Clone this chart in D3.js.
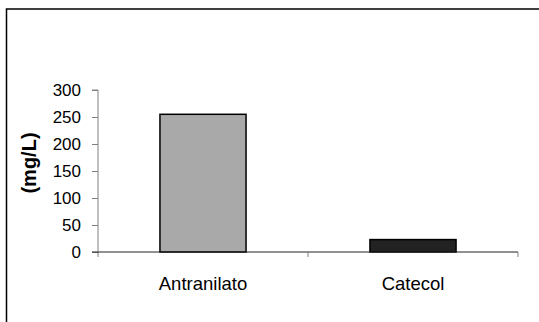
<!DOCTYPE html>
<html><head><meta charset="utf-8">
<script src="https://cdn.jsdelivr.net/npm/d3@7"></script>
<style>body{margin:0;background:#fff}svg{display:block}</style>
</head><body>
<svg id="c" width="539" height="322"></svg>
<script>
const categories = ["Antranilato", "Catecol"];
const values = [255, 23];
const barColors = ["#a9a9a9", "#222222"];
const yTicks = [0, 50, 100, 150, 200, 250, 300];
const yLabel = "(mg/L)";

const svg = d3.select("#c");
const font = "'Liberation Sans', Arial, sans-serif";

// frame (only top and left visible)
svg.append("rect").attr("x", 6.5).attr("y", 9).attr("width", 600).attr("height", 400)
  .attr("fill", "#fff").attr("stroke", "#000").attr("stroke-width", 1.5);

const x0 = 98, x1 = 518, yTop = 90, yBot = 252;
const x = d3.scaleBand().domain(categories).range([x0, x1]).paddingInner(0.59).paddingOuter(0.295);
const y = d3.scaleLinear().domain([0, 300]).range([yBot, yTop]);

// bars
svg.selectAll("rect.bar").data(values).enter().append("rect")
  .attr("class", "bar")
  .attr("x", (d, i) => x(categories[i]))
  .attr("y", d => y(d))
  .attr("width", x.bandwidth())
  .attr("height", d => yBot - y(d))
  .attr("fill", (d, i) => barColors[i])
  .attr("stroke", "#000").attr("stroke-width", 1.5);

// y axis
const ya = svg.append("g").attr("transform", `translate(${x0},0)`)
  .call(d3.axisLeft(y).tickValues(yTicks).tickSize(6).tickPadding(11));
ya.select(".domain").attr("stroke", "#808080").attr("d", `M-6,${yTop}H0V${yBot + 5}`);
ya.selectAll(".tick line").attr("stroke", "#808080");
ya.selectAll("text").attr("font-family", font).attr("font-size", 17).attr("fill", "#000");

// x axis
const xa = svg.append("g").attr("transform", `translate(0,${yBot})`);
xa.append("line").attr("x1", x0 - 6).attr("x2", x1).attr("y1", 0).attr("y2", 0)
  .attr("stroke", "#222").attr("stroke-width", 1);
const step = x.step();
const bounds = [x0 + step, x1];
xa.selectAll("line.t").data(bounds).enter().append("line").attr("class", "t")
  .attr("x1", d => d).attr("x2", d => d).attr("y1", 0).attr("y2", 5).attr("stroke", "#808080");
xa.selectAll("text").data(categories).enter().append("text")
  .attr("x", d => x(d) + x.bandwidth() / 2).attr("y", 38)
  .attr("text-anchor", "middle").attr("font-family", font).attr("font-size", 18.5).text(d => d);

// y label
svg.append("text").attr("transform", `translate(36,163) rotate(-90)`)
  .attr("text-anchor", "middle").attr("font-family", font).attr("font-size", 20)
  .attr("font-weight", "bold").text(yLabel);
</script>
</body></html>
